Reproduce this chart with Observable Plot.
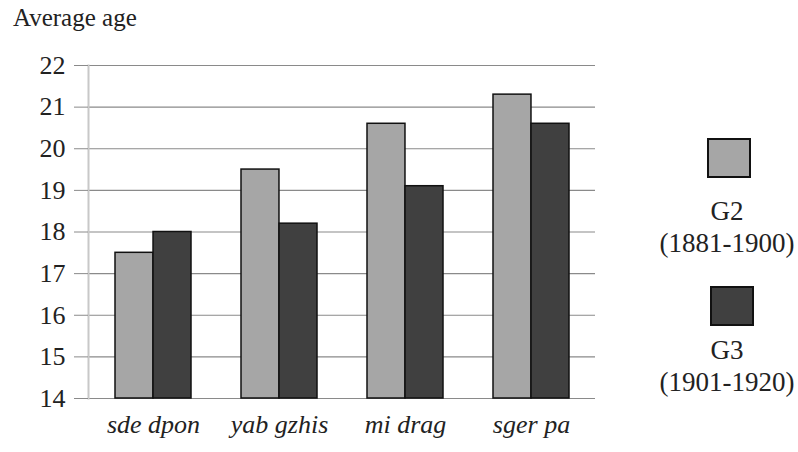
<!DOCTYPE html>
<html>
<head>
<meta charset="utf-8">
<script src="https://cdn.jsdelivr.net/npm/d3@7"></script>
<script src="https://cdn.jsdelivr.net/npm/@observablehq/plot@0.6"></script>
<style>
  html, body { margin: 0; padding: 0; background: #fff; }
  #wrap { position: relative; width: 798px; height: 452px; font-family: "Liberation Serif", "Times New Roman", serif; color: #222; }
  #chart svg, #chart svg g, #chart svg text { font-family: "Liberation Serif", "Times New Roman", serif !important; }
  #title { position: absolute; left: 13px; top: 4px; font-size: 25px; }
  .leg-sw { position: absolute; width: 44px; height: 40px; border: 2px solid #111; box-sizing: border-box; }
  .leg-tx { position: absolute; width: 160px; text-align: center; font-size: 27px; line-height: 32px; white-space: nowrap; font-family: "Liberation Serif", "Times New Roman", serif; }
</style>
</head>
<body>
<div id="wrap">
  <div id="title">Average age</div>
  <div id="chart"></div>
  <div id="legend"></div>
</div>
<script>
const categories = ["sde dpon", "yab gzhis", "mi drag", "sger pa"];
const seriesNames = ["G2", "G3"];
const seriesLabels = ["(1881-1900)", "(1901-1920)"];
const g2Values = [17.5, 19.5, 20.6, 21.3];
const g3Values = [18.0, 18.2, 19.1, 20.6];
const yTicks = [14, 15, 16, 17, 18, 19, 20, 21, 22];
const colors = ["#a6a6a6", "#404040"];

const g2 = categories.map((c, i) => ({category: c, value: g2Values[i]}));
const g3 = categories.map((c, i) => ({category: c, value: g3Values[i]}));

const serifFont = "Liberation Serif";
const width = 798, height = 452;
const marginLeft = 88, marginRight = 203, marginTop = 65, marginBottom = 54;
const paddingInner = 0.4, paddingOuter = 0.2;
const step = (width - marginLeft - marginRight) / (categories.length - paddingInner + 2 * paddingOuter);
const half = step * (1 - paddingInner) / 2;

const chart = Plot.plot({
  width, height, marginLeft, marginRight, marginTop, marginBottom,
  style: {fontFamily: serifFont, fontSize: "26px", color: "#222", background: "white"},
  x: {type: "band", domain: categories, paddingInner, paddingOuter},
  y: {domain: [14, 22]},
  marks: [
    Plot.gridY(yTicks, {stroke: "#8a8a8a", strokeOpacity: 1, strokeWidth: 1.2}),
    Plot.frame({anchor: "left", stroke: "#c8c8c8", strokeWidth: 2}),
    Plot.axisY(yTicks, {tickSize: 14, tickPadding: 9, stroke: "#8a8a8a", label: null, fontSize: 26, fontFamily: serifFont, fill: "#222"}),
    Plot.axisX({tickSize: 0, tickPadding: 16, label: null, fontSize: 26, fontFamily: serifFont, fontStyle: "italic", fill: "#222"}),
    Plot.barY(g2, {x: "category", y1: 14, y2: "value", fill: colors[0], stroke: "#111", strokeWidth: 1.5, insetLeft: 0, insetRight: half}),
    Plot.barY(g3, {x: "category", y1: 14, y2: "value", fill: colors[1], stroke: "#111", strokeWidth: 1.5, insetLeft: half, insetRight: 0})
  ]
});
document.getElementById("chart").appendChild(chart);

const legend = document.getElementById("legend");
const legPos = [{sw: [707, 138], tx: 195}, {sw: [710, 286], tx: 334}];
seriesNames.forEach((s, i) => {
  const sw = document.createElement("div");
  sw.className = "leg-sw";
  sw.style.left = legPos[i].sw[0] + "px";
  sw.style.top = legPos[i].sw[1] + "px";
  sw.style.background = colors[i];
  legend.appendChild(sw);
  const tx = document.createElement("div");
  tx.className = "leg-tx";
  tx.style.left = (727 - 80) + "px";
  tx.style.top = legPos[i].tx + "px";
  tx.innerHTML = s + "<br>" + seriesLabels[i];
  legend.appendChild(tx);
});
</script>
</body>
</html>
